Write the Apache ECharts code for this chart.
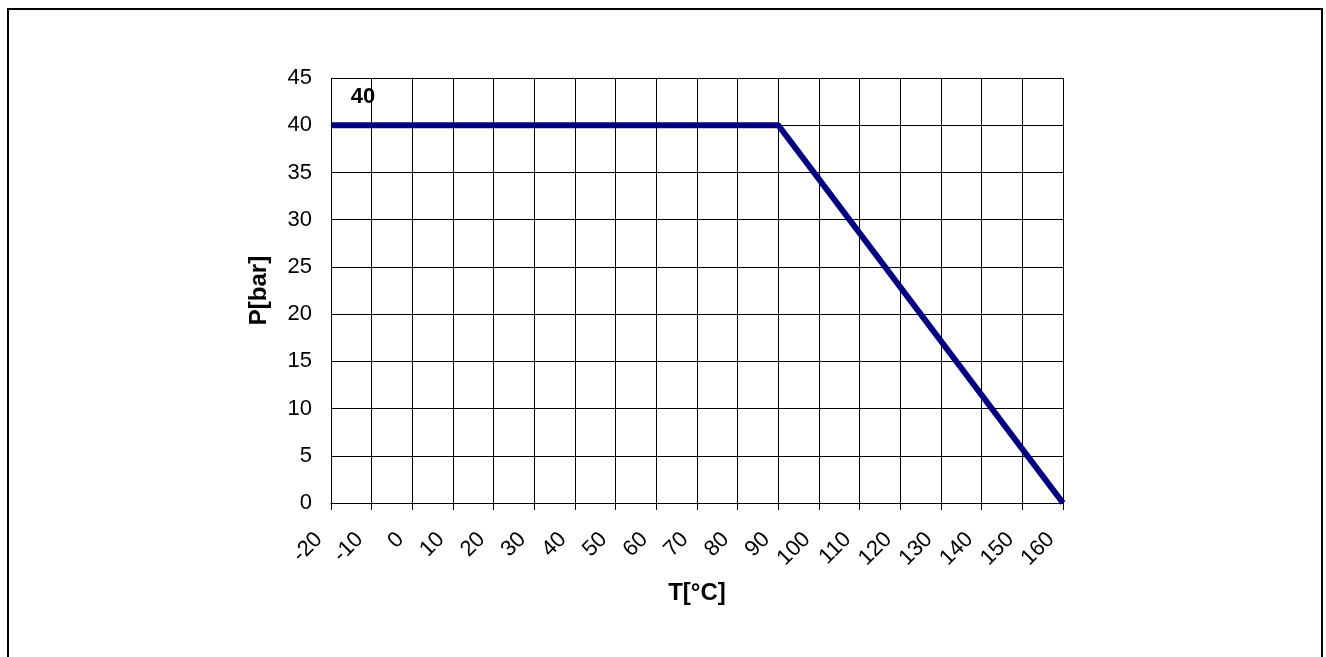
<!DOCTYPE html>
<html>
<head>
<meta charset="utf-8">
<script src="https://cdn.jsdelivr.net/npm/echarts@6/dist/echarts.min.js"></script>
<style>
html,body{margin:0;padding:0;background:#fff;overflow:hidden;}
#frame{position:absolute;left:7px;top:8px;width:1316px;height:680px;border:2px solid #000;box-sizing:border-box;}
#chart{position:absolute;left:0;top:0;width:1326px;height:657px;}
</style>
</head>
<body>
<div id="frame"></div>
<div id="chart"></div>
<script>
const temperatures = [-20, 90, 160];
const pressures = [40, 40, 0];
const xTicks = { min: -20, max: 160, interval: 10 };
const yTicks = { min: 0, max: 45, interval: 5 };
const xName = 'T[°C]';
const yName = 'P[bar]';
const firstLabel = '40';

const font = 'Liberation Sans, Arial, sans-serif';
const chart = echarts.init(document.getElementById('chart'));
chart.setOption({
  animation: false,
  backgroundColor: 'transparent',
  grid: { left: 331, top: 78, right: 263, bottom: 154, containLabel: false },
  xAxis: {
    type: 'value', min: xTicks.min, max: xTicks.max, interval: xTicks.interval,
    name: xName, nameLocation: 'middle', nameGap: 78,
    nameTextStyle: { fontFamily: font, fontSize: 24, fontWeight: 'bold', color: '#000' },
    axisLine: { show: true, lineStyle: { color: '#000', width: 1 } },
    axisTick: { show: true, length: 7, inside: false, lineStyle: { color: '#000' } },
    axisLabel: { rotate: 45, margin: 21, padding: [0, 17, 0, 0], fontFamily: font, fontSize: 22, color: '#000' },
    splitLine: { show: true, lineStyle: { color: '#000', width: 1 } }
  },
  yAxis: {
    type: 'value', min: yTicks.min, max: yTicks.max, interval: yTicks.interval,
    name: yName, nameLocation: 'middle', nameGap: 60, nameRotate: 90,
    nameTextStyle: { fontFamily: font, fontSize: 24, fontWeight: 'bold', color: '#000' },
    axisLine: { show: true, lineStyle: { color: '#000', width: 1 } },
    axisTick: { show: true, length: 7, inside: false, lineStyle: { color: '#000' } },
    axisLabel: { margin: 19, fontFamily: font, fontSize: 22, color: '#000' },
    splitLine: { show: true, lineStyle: { color: '#000', width: 1 } }
  },
  series: [{
    type: 'line',
    data: temperatures.map((t, i) => ({
      value: [t, pressures[i]],
      label: i === 0 ? { show: true, formatter: firstLabel, position: 'top', offset: [32, -12],
        fontFamily: font, fontSize: 22, fontWeight: 'bold', color: '#000' } : { show: false }
    })),
    showSymbol: true,
    symbol: 'circle',
    symbolSize: 1,
    itemStyle: { color: '#000080' },
    lineStyle: { color: '#000080', width: 6 },
    label: { show: false },
    emphasis: { disabled: true },
    clip: false
  }]
});
</script>
</body>
</html>
